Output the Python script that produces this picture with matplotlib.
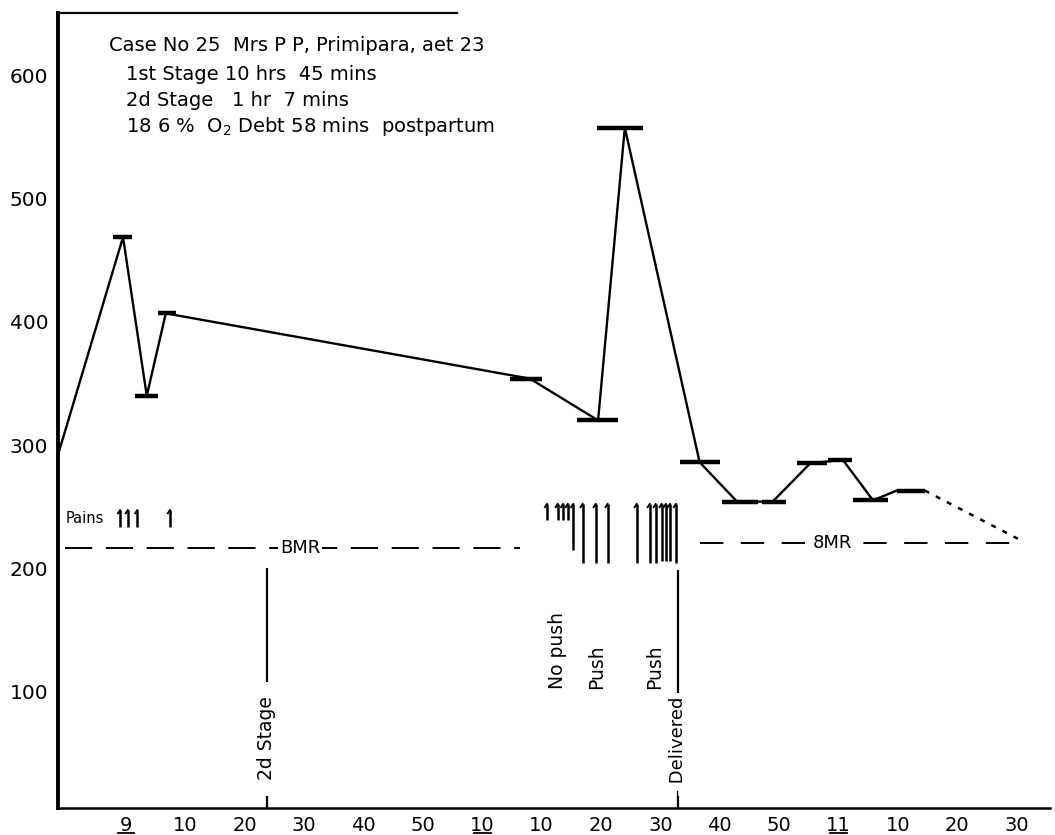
import matplotlib
matplotlib.use("Agg")
import matplotlib.pyplot as plt
import matplotlib.transforms as mtransforms

plt.rcParams['font.family'] = ['DejaVu Sans']

# ---- data (x in minutes after 9:00, y = O2 consumption) ----
line_t = [-11.45, -0.5, 3.5, 6.7, 68.0, 79.5, 84.0, 96.6, 102.9, 108.9, 115.2, 120.7, 125.8, 129.8]
line_v = [292, 469, 340, 407, 354, 320, 558, 286, 254, 254, 285, 288, 255, 263]

bar_t0 = [-2.2, 1.5, 5.4, 64.6, 75.9, 79.3, 93.3, 100.3, 107.1, 113.0, 118.2, 122.4, 129.8]
bar_t1 = [1.0, 5.4, 8.4, 70.0, 82.8, 87.0, 100.0, 106.4, 111.1, 118.0, 122.2, 128.3, 134.5]
bar_v = [469, 340, 407, 354, 320, 558, 286, 254, 254, 285, 288, 255, 263]

dotted_t = [134.5, 151.3]
dotted_v = [263, 221]

bmr_left_t = [-10.3, 66.3]
bmr_left_v = 216
bmr_right_t = [96.6, 151.3]
bmr_right_v = 220

pains_left_t = [-1.0, 0.3, 1.9, 7.4]
pains_left_top = 247
pains_left_bottom = 233

pains_t = [70.9, 72.7, 73.6, 74.4, 75.3, 76.9, 79.1, 81.1, 86.0, 88.2, 89.2, 90.2, 90.9, 91.6, 92.6]
pains_top = [252] * 15
pains_bottom = [239, 239, 239, 239, 215, 204, 204, 204, 204, 204, 204, 206, 206, 206, 204]

stage2_t = 23.7
delivered_t = 92.9

xticks = list(range(0, 151, 10))
xticklabels = ["9", "10", "20", "30", "40", "50", "10", "10", "20", "30", "40", "50", "11", "10", "20", "30"]
underlined = [0, 60, 120]
yticks = [100, 200, 300, 400, 500, 600]

notes = ["Case No 25  Mrs P P, Primipara, aet 23",
         "1st Stage 10 hrs  45 mins",
         "2d Stage   1 hr  7 mins",
         "18 6 %  O$_2$ Debt 58 mins  postpartum"]

# ---- figure ----
fig = plt.figure(figsize=(10.55, 8.35), dpi=100)
ax = fig.add_axes([58 / 1055, 1 - 808 / 835, (1050 - 58) / 1055, (808 - 13) / 835])
ax.set_xlim(-11.45, 155.6)
ax.set_ylim(4.9, 651.2)

k = 'black'
ax.plot(line_t, line_v, color=k, lw=1.7, solid_joinstyle='miter')
ax.hlines(bar_v, bar_t0, bar_t1, color=k, lw=3.2)
ax.plot(dotted_t, dotted_v, color=k, lw=1.8, ls=(0, (2, 3)))

# BMR lines
ax.plot(bmr_left_t, [bmr_left_v] * 2, color=k, lw=1.4, ls=(0, (14, 7)))
ax.plot(bmr_right_t, [bmr_right_v] * 2, color=k, lw=1.4, ls=(0, (12, 9)))
ax.text(29.3, bmr_left_v, "BMR", ha='center', va='center', fontsize=13,
        bbox=dict(fc='white', ec='none', pad=1.5))
ax.text(119.0, bmr_right_v, "8MR", ha='center', va='center', fontsize=13,
        bbox=dict(fc='white', ec='none', pad=1.5))

# pains
ax.text(-10.2, 240, "Pains", ha='left', va='center', fontsize=10.5)
ax.vlines(pains_left_t, pains_left_bottom, pains_left_top, color=k, lw=1.8)
for t in pains_left_t:
    ax.plot([t - 0.35, t], [pains_left_top - 2.5, pains_left_top], color=k, lw=1.4)
ax.vlines(pains_t, pains_bottom, pains_top, color=k, lw=1.8)
for t, top in zip(pains_t, pains_top):
    ax.plot([t - 0.35, t], [top - 2.5, top], color=k, lw=1.4)

# 2d stage marker
ax.vlines(stage2_t, 107, 200, color=k, lw=1.6)
ax.vlines(stage2_t, 4.9, 15, color=k, lw=1.6)
ax.text(stage2_t, 62, "2d Stage", rotation=90, ha='center', va='center', fontsize=13.5)

# delivered marker
ax.vlines(delivered_t, 98, 198, color=k, lw=1.6)
ax.vlines(delivered_t, 4.9, 15, color=k, lw=1.6)
ax.text(delivered_t, 54, "\u2013 Delivered", rotation=90, ha='center', va='center', fontsize=13)

# push labels
ax.text(72.7, 102, "No push", rotation=90, ha='center', va='bottom', fontsize=13.5)
ax.text(79.3, 102, "Push", rotation=90, ha='center', va='bottom', fontsize=13.5)
ax.text(89.1, 102, "Push", rotation=90, ha='center', va='bottom', fontsize=13.5)

# notes
ax.text(-2.9, 625, notes[0], ha='left', va='center', fontsize=14)
for i, s in enumerate(notes[1:]):
    ax.text(0.0, 601.5 - i * 21.2, s, ha='left', va='center', fontsize=14)

# axes styling
ax.spines['right'].set_visible(False)
ax.spines['top'].set_bounds(-11.45, 55.7)
ax.spines['top'].set_linewidth(1.6)
ax.spines['left'].set_linewidth(2.8)
ax.spines['bottom'].set_linewidth(1.8)

ax.set_xticks(xticks)
ax.set_xticklabels(xticklabels, fontsize=14)
ax.set_yticks(yticks)
ax.set_yticklabels([str(v) for v in yticks], fontsize=14.5)
ax.tick_params(axis='both', length=0)
ax.tick_params(axis='x', pad=6)
ax.tick_params(axis='y', pad=7)

trans = mtransforms.blended_transform_factory(ax.transData, ax.transAxes)
for t in underlined:
    ax.plot([t - 1.4, t + 1.4], [-0.031, -0.031], color=k, lw=1.3, transform=trans, clip_on=False)

fig.savefig("out.png", dpi=100, facecolor='white')
